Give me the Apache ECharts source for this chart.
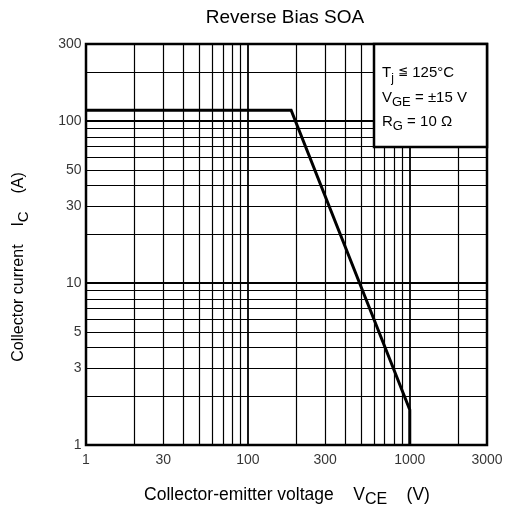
<!DOCTYPE html>
<html>
<head>
<meta charset="utf-8">
<script src="https://cdn.jsdelivr.net/npm/echarts@6/dist/echarts.min.js"></script>
<style>html,body{margin:0;padding:0;background:#fff}#c{width:507px;height:510px}</style>
</head>
<body>
<div id="c"></div>
<script>
// ---- data ----
const soaVoltage = [10, 185, 1000, 1000];      // V_CE (V)
const soaCurrent = [117, 117, 1.65, 1];        // I_C (A)
const xTickValues = [10, 30, 100, 300, 1000, 3000];
const xTickLabels = ['1', '30', '100', '300', '1000', '3000'];
const yTickValues = [1, 3, 5, 10, 30, 50, 100, 300];
const yTickLabels = ['1', '3', '5', '10', '30', '50', '100', '300'];
const xGridMinor = [20, 30, 40, 50, 60, 70, 80, 90, 200, 300, 400, 500, 600, 700, 800, 900, 2000];
const xGridMajor = [100, 1000];
const yGridMinor = [2, 3, 4, 5, 6, 7, 8, 9, 20, 30, 40, 50, 60, 70, 80, 90, 200];
const yGridMajor = [10, 100];

const FONT = "'Liberation Sans', Arial, sans-serif";
const chart = echarts.init(document.getElementById('c'), null, {renderer: 'canvas'});

const gridLineSeries = (vals, key, width) => ({
  type: 'scatter', data: [], z: 1, silent: true,
  markLine: {
    silent: true, symbol: ['none', 'none'], animation: false,
    label: {show: false},
    lineStyle: {type: 'solid', color: '#000', width: width},
    emphasis: {disabled: true},
    data: vals.map(v => ({[key]: v}))
  }
});

const option = {
  animation: false,
  backgroundColor: '#fff',
  grid: {left: 86, right: 20, top: 44, bottom: 65, show: true, borderColor: '#000', borderWidth: 2.5, backgroundColor: 'transparent'},
  xAxis: {type: 'log', logBase: 10, min: 10, max: 3000,
    axisLine: {show: false}, axisTick: {show: false}, axisLabel: {show: false}, splitLine: {show: false}},
  yAxis: {type: 'log', logBase: 10, min: 1, max: 300,
    axisLine: {show: false}, axisTick: {show: false}, axisLabel: {show: false}, splitLine: {show: false}},
  series: [
    gridLineSeries(xGridMinor, 'xAxis', 1.2),
    gridLineSeries(xGridMajor, 'xAxis', 1.8),
    gridLineSeries(yGridMinor, 'yAxis', 1.2),
    gridLineSeries(yGridMajor, 'yAxis', 1.8),
    {
      type: 'line', z: 5, silent: true, symbol: 'none', clip: false,
      lineStyle: {color: '#000', width: 3, join: 'miter'},
      data: soaVoltage.map((v, i) => [v, soaCurrent[i]])
    },
    {
      type: 'scatter', z: 6, silent: true, clip: false, symbolSize: 1,
      itemStyle: {color: 'rgba(0,0,0,0)'},
      label: {show: true, position: 'bottom', distance: 8, color: '#000', fontSize: 14, fontFamily: FONT,
        formatter: p => xTickLabels[p.dataIndex]},
      data: xTickValues.map(v => [v, 1])
    },
    {
      type: 'scatter', z: 6, silent: true, clip: false, symbolSize: 1,
      itemStyle: {color: 'rgba(0,0,0,0)'},
      label: {show: true, position: 'left', distance: 4, color: '#000', fontSize: 14, fontFamily: FONT,
        formatter: p => yTickLabels[p.dataIndex]},
      data: yTickValues.map(v => [10, v])
    }
  ],
  graphic: [
    {type: 'text', z: 100, style: {x: 285, y: 18, text: 'Reverse Bias SOA', fill: '#000',
      font: "19px " + FONT, align: 'center', verticalAlign: 'middle', textAlign: 'center', textVerticalAlign: 'middle'}},
    {type: 'text', z: 100, style: {x: 287, y: 496,
      text: '{a|Collector-emitter voltage    V}{s|CE}{a|    (V)}', fill: '#000',
      align: 'center', verticalAlign: 'middle', textAlign: 'center', textVerticalAlign: 'middle',
      rich: {a: {fontSize: 17.5, lineHeight: 20, verticalAlign: 'top', fontFamily: FONT, fill: '#000'},
             s: {fontSize: 16, lineHeight: 18, verticalAlign: 'top', padding: [6, 0, 0, 0], fontFamily: FONT, fill: '#000'}}}},
    {type: 'text', z: 100, x: 20, y: 267, rotation: Math.PI / 2, style: {x: 0, y: 0,
      text: '{a|Collector current    I}{s|C}{a|    (A)}', fill: '#000',
      align: 'center', verticalAlign: 'middle', textAlign: 'center', textVerticalAlign: 'middle',
      rich: {a: {fontSize: 16, lineHeight: 19, verticalAlign: 'top', fontFamily: FONT, fill: '#000'},
             s: {fontSize: 15, lineHeight: 17, verticalAlign: 'top', padding: [6, 0, 0, 0], fontFamily: FONT, fill: '#000'}}}},
    {type: 'rect', z: 99, shape: {x: 374, y: 44, width: 113, height: 103},
      style: {fill: '#fff', stroke: '#000', lineWidth: 2.5}},
    {type: 'text', z: 100, style: {x: 382, y: 74,
      text: '{m|T}{s|j}{m| }{le|≦}{m| 125°C}', align: 'left', verticalAlign: 'middle', textAlign: 'left', textVerticalAlign: 'middle',
      rich: {m: {fontSize: 15, lineHeight: 18, verticalAlign: 'top', fontFamily: FONT, fill: '#000'},
             s: {fontSize: 12, lineHeight: 14, verticalAlign: 'top', padding: [8, 0, 0, 0], fontFamily: FONT, fill: '#000'},
             le: {fontSize: 12, lineHeight: 14, verticalAlign: 'top', padding: [1, 0, 0, 0], fontFamily: "'DejaVu Sans', sans-serif", fill: '#000'}}}},
    {type: 'text', z: 100, style: {x: 382, y: 99,
      text: '{m|V}{s|GE}{m| = ±15 V}', align: 'left', verticalAlign: 'middle', textAlign: 'left', textVerticalAlign: 'middle',
      rich: {m: {fontSize: 15, lineHeight: 18, verticalAlign: 'top', fontFamily: FONT, fill: '#000'},
             s: {fontSize: 13, lineHeight: 15, verticalAlign: 'top', padding: [6, 0, 0, 0], fontFamily: FONT, fill: '#000'}}}},
    {type: 'text', z: 100, style: {x: 382, y: 123,
      text: '{m|R}{s|G}{m| = 10 Ω}', align: 'left', verticalAlign: 'middle', textAlign: 'left', textVerticalAlign: 'middle',
      rich: {m: {fontSize: 15, lineHeight: 18, verticalAlign: 'top', fontFamily: FONT, fill: '#000'},
             s: {fontSize: 13, lineHeight: 15, verticalAlign: 'top', padding: [6, 0, 0, 0], fontFamily: FONT, fill: '#000'}}}}
  ]
};
chart.setOption(option);
</script>
</body>
</html>
